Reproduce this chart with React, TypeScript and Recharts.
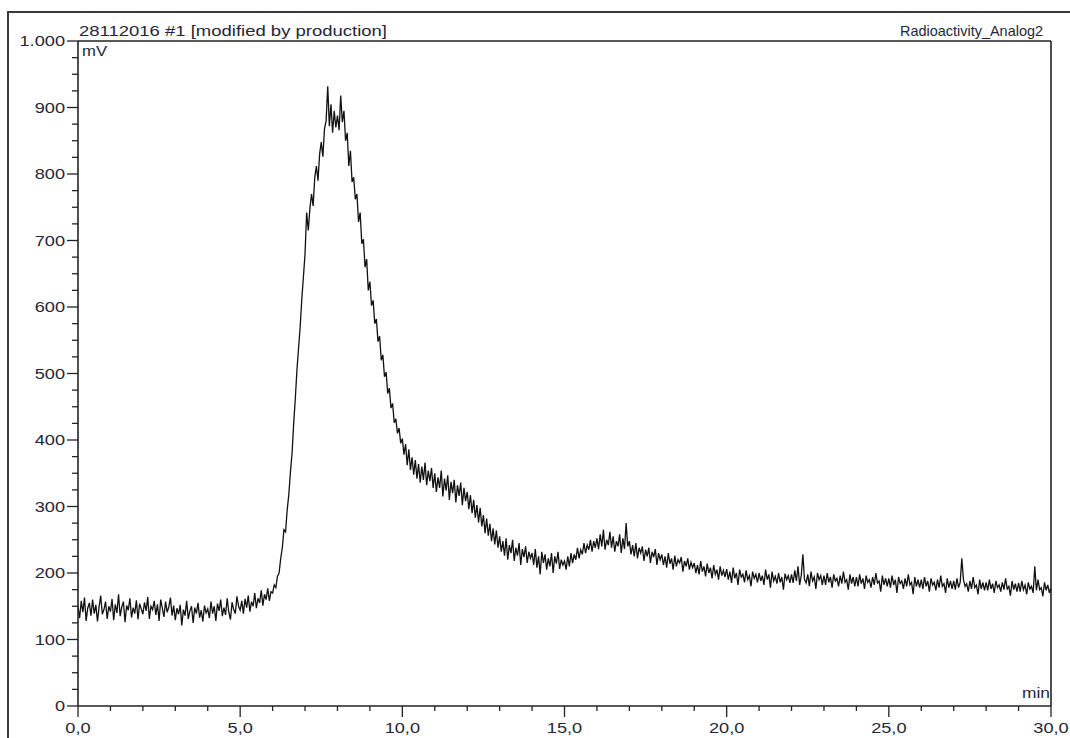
import React from "react";
import { LineChart, Line, XAxis, YAxis, ReferenceLine } from "recharts";

// detector trace, sampled every 0.05 min, in mV
const STEP_MIN = 0.05;

const BASELINE_0_6 = [
  150, 132, 158, 141, 163, 128, 147, 155, 136, 160, 139, 152, 127, 149, 166, 138, 145, 157, 131, 150,
  142, 161, 129, 153, 140, 168, 135, 149, 157, 126, 151, 144, 162, 133, 148, 139, 159, 130, 154, 146,
  138, 156, 143, 164, 131, 150, 145, 158, 137, 153, 128, 160, 147, 134, 157, 141, 149, 163, 136, 151,
  129, 147, 138, 152, 121, 145, 136, 158, 131, 143, 150, 125, 148, 139, 155, 133, 144, 127, 151, 140,
  146, 132, 157, 139, 150, 128, 154, 143, 160, 135, 148, 137, 162, 141, 130, 156, 145, 139, 165, 150,
  144, 158, 139, 161, 148, 166, 142, 157, 150, 170, 147, 162, 155, 174, 151, 168, 160, 177, 158, 172,
];

const PEAK_6_10 = [
  170, 182, 178, 195, 200, 222, 238, 265, 262, 295, 318, 352, 380, 425, 462, 505, 538, 570, 612, 645,
  680, 742, 715, 748, 770, 752, 795, 812, 790, 830, 848, 826, 868, 880, 932, 872, 905, 862, 895, 870,
  888, 866, 918, 878, 895, 850, 862, 812, 835, 788, 795, 762, 770, 728, 742, 695, 702, 660, 672, 625,
  638, 602, 610, 575, 582, 548, 556, 520, 528, 495, 502, 470, 478, 448, 455, 426, 432, 410, 418, 395,
];

const TAIL_10_18 = [
  402, 378, 394, 362, 386, 355, 374, 348, 370, 342, 364, 336, 360, 340, 366, 332, 354, 338, 358, 328,
  350, 322, 344, 328, 354, 315, 342, 324, 347, 310, 337, 320, 340, 306, 332, 316, 336, 302, 328, 308,
  322, 296, 317, 290, 310, 283, 302, 276, 298, 270, 287, 260, 282, 256, 274, 248, 267, 243, 264, 238,
  255, 232, 248, 226, 252, 220, 242, 230, 250, 218, 238, 226, 245, 212, 236, 224, 240, 215, 232, 222,
  230, 212, 236, 208, 225, 198, 232, 215, 228, 205, 222, 210, 230, 200, 225, 214, 232, 206, 220, 212,
  218, 205, 225, 210, 230, 215, 228, 220, 238, 222, 235, 228, 245, 230, 242, 235, 250, 232, 248, 238,
  252, 236, 258, 240, 265, 235, 250, 242, 262, 238, 255, 232, 248, 240, 258, 230, 252, 236, 275, 240,
  248, 228, 242, 225, 245, 222, 238, 230, 240, 218, 235, 225, 238, 215, 232, 224, 236, 212, 230, 220,
];

const TAIL_18_30 = [
  228, 212, 225, 208, 230, 214, 222, 205, 226, 210, 220, 215, 224, 202, 218, 210, 222, 205, 216, 208,
  215, 200, 212, 198, 218, 202, 210, 195, 214, 200, 208, 192, 212, 198, 205, 190, 210, 196, 204, 194,
  206, 190, 202, 185, 208, 192, 200, 182, 205, 194, 198, 186, 204, 190, 196, 180, 202, 192, 198, 186,
  200, 188, 196, 182, 205, 190, 198, 178, 202, 188, 195, 184, 200, 186, 194, 175, 199, 190, 196, 185,
  198, 185, 204, 188, 210, 182, 196, 228, 190, 185, 198, 180, 202, 188, 194, 176, 200, 190, 196, 182,
  196, 182, 200, 186, 194, 178, 198, 188, 192, 180, 196, 184, 202, 186, 190, 175, 198, 184, 194, 180,
  194, 180, 198, 184, 192, 176, 196, 186, 190, 178, 194, 182, 200, 185, 188, 172, 196, 182, 192, 180,
  192, 178, 196, 182, 190, 170, 194, 184, 188, 176, 192, 180, 198, 182, 186, 168, 194, 180, 190, 178,
  190, 176, 194, 180, 188, 172, 192, 182, 186, 174, 190, 178, 196, 180, 184, 170, 192, 178, 188, 176,
  188, 175, 192, 178, 186, 222, 190, 180, 184, 172, 188, 176, 194, 178, 182, 168, 190, 176, 186, 174,
  186, 174, 190, 176, 184, 170, 188, 178, 182, 172, 186, 175, 192, 176, 180, 166, 188, 175, 184, 172,
  185, 172, 188, 175, 182, 168, 186, 176, 180, 170, 210, 174, 190, 175, 178, 165, 186, 174, 182, 170,
  178,
];

const Y_MAJOR = [0, 100, 200, 300, 400, 500, 600, 700, 800, 900, 1000];
const X_MAJOR = [0, 5, 10, 15, 20, 25, 30];

const TITLE = "28112016 #1 [modified by production]";
const CHANNEL = "Radioactivity_Analog2";

const signal = [...BASELINE_0_6, ...PEAK_6_10, ...TAIL_10_18, ...TAIL_18_30];
const data = signal.map((mv, i) => ({ t: +(i * STEP_MIN).toFixed(2), mv }));

// minor ticks every 25 mV and every 1 min
const yTicks = Y_MAJOR.flatMap((v, i) =>
  i === Y_MAJOR.length - 1 ? [v] : [v, v + 25, v + 50, v + 75]
);
const xTicks = X_MAJOR.flatMap((v, i) =>
  i === X_MAJOR.length - 1 ? [v] : [v, v + 1, v + 2, v + 3, v + 4]
);

const INK = "#222";
const LABEL = "#26263a";
const font = "'Liberation Sans', Arial, sans-serif";

const fmtY = (v: number) => (v >= 1000 ? v.toLocaleString("de-DE") : String(v));
const fmtX = (v: number) => v.toFixed(1).replace(".", ",");

function YTick({ x, y, payload }: any) {
  const major = payload.value % 100 === 0;
  return (
    <g>
      <line x1={x - (major ? 11 : 6)} x2={x} y1={y} y2={y} stroke={INK} strokeWidth={1.3} />
      {major && (
        <text
          transform={`translate(${x - 13},${y + 5}) scale(1.3,1)`}
          textAnchor="end"
          fontSize={14}
          fontFamily={font}
          fill={LABEL}
        >
          {fmtY(payload.value)}
        </text>
      )}
    </g>
  );
}

function XTick({ x, y, payload }: any) {
  const major = payload.value % 5 === 0;
  return (
    <g>
      <line x1={x} x2={x} y1={y} y2={y + (major ? 11 : 5)} stroke={INK} strokeWidth={1.3} />
      {major && (
        <text
          transform={`translate(${x},${y + 27}) scale(1.3,1)`}
          textAnchor="middle"
          fontSize={14}
          fontFamily={font}
          fill={LABEL}
        >
          {fmtX(payload.value)}
        </text>
      )}
    </g>
  );
}

export default function App() {
  return (
    <div
      style={{
        position: "fixed",
        left: 0,
        top: 0,
        width: 1070,
        height: 738,
        overflow: "hidden",
        background: "#fff",
      }}
    >
      <div
        style={{
          position: "absolute",
          left: 7,
          top: 11,
          width: 1200,
          height: 900,
          border: "2px solid #3a3a3a",
        }}
      />
      <div style={{ position: "absolute", left: 0, top: 0 }}>
        <LineChart
          width={1070}
          height={738}
          data={data}
          margin={{ top: 41, right: 19, bottom: 0, left: 0 }}
        >
          <XAxis
            dataKey="t"
            type="number"
            domain={[0, 30]}
            ticks={xTicks}
            interval={0}
            height={32}
            tickSize={0}
            tickMargin={0}
            tickLine={false}
            tick={<XTick />}
            axisLine={{ stroke: INK, strokeWidth: 1.6 }}
            allowDataOverflow
          />
          <YAxis
            type="number"
            domain={[0, 1000]}
            ticks={yTicks}
            interval={0}
            width={78}
            tickSize={0}
            tickMargin={0}
            tickLine={false}
            tick={<YTick />}
            axisLine={{ stroke: INK, strokeWidth: 1.6 }}
            allowDataOverflow
          />
          <ReferenceLine y={1000} stroke={INK} strokeWidth={1.6} />
          <ReferenceLine x={30} stroke={INK} strokeWidth={1.6} />
          <Line
            dataKey="mv"
            type="linear"
            stroke="#111"
            strokeWidth={1.3}
            dot={false}
            isAnimationActive={false}
          />
        </LineChart>
      </div>
      <svg
        width={1070}
        height={738}
        style={{ position: "absolute", left: 0, top: 0, pointerEvents: "none" }}
        fontFamily={font}
        fill={LABEL}
      >
        <text x={79} y={36} fontSize={15} textLength={308} lengthAdjust="spacingAndGlyphs">
          {TITLE}
        </text>
        <text x={900} y={36} fontSize={15} textLength={143} lengthAdjust="spacingAndGlyphs">
          {CHANNEL}
        </text>
        <text x={82} y={56} fontSize={14} textLength={25} lengthAdjust="spacingAndGlyphs">
          mV
        </text>
        <text x={1022} y={698} fontSize={14} textLength={28} lengthAdjust="spacingAndGlyphs">
          min
        </text>
      </svg>
    </div>
  );
}
